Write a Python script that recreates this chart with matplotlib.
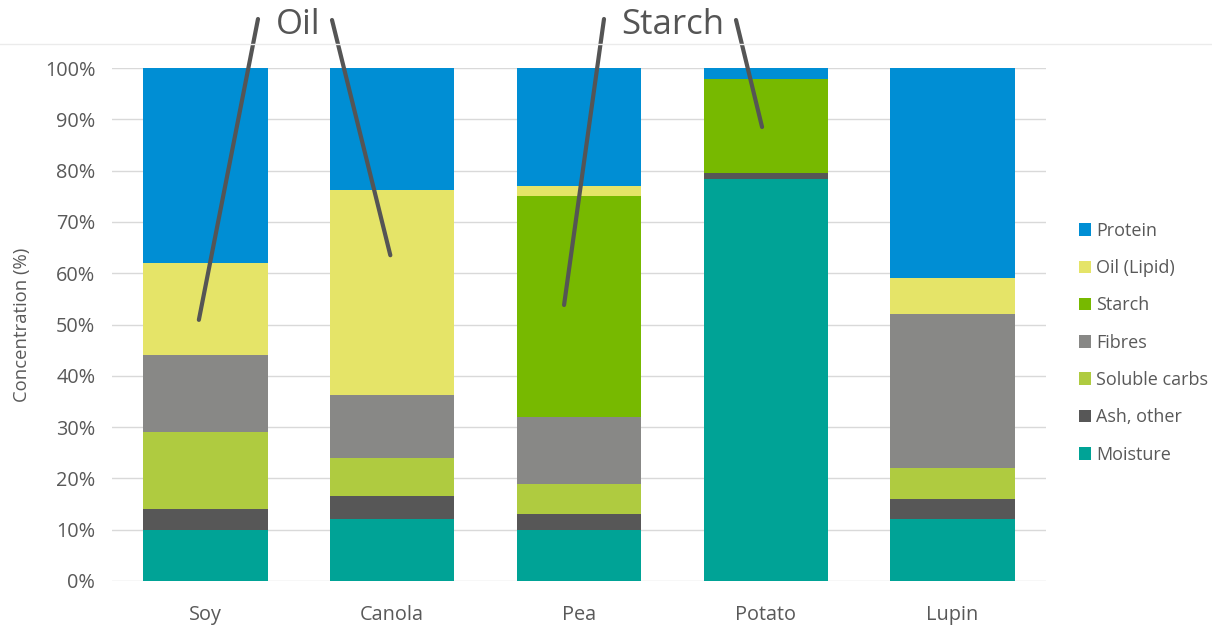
import matplotlib
matplotlib.use("Agg")
import matplotlib.pyplot as plt
from matplotlib.lines import Line2D
from matplotlib.ticker import FuncFormatter
import numpy as np

plt.rcParams['font.family'] = ['Open Sans', 'DejaVu Sans']

crops = ['Soy', 'Canola', 'Pea', 'Potato', 'Lupin']

# stacked from the bottom up
components = ['Moisture', 'Ash, other', 'Soluble carbs', 'Fibres', 'Starch', 'Oil (Lipid)', 'Protein']
moisture = [10, 12, 10, 78.4, 12]
ash = [4, 4.5, 3, 1.1, 4]
soluble_carbs = [15, 7.5, 6, 0, 6]
fibres = [15, 12.3, 13, 0, 30]
starch = [0, 0, 43, 18.4, 0]
oil = [18, 40, 2, 0, 7]
protein = [38, 23.7, 23, 2.1, 41]

colors = ['#00A396', '#575757', '#AFCB40', '#888886', '#77B900', '#E5E468', '#008ED4']

fig = plt.figure(figsize=(12.12, 6.25), dpi=100)
ax = fig.add_axes([112 / 1212, 1 - 581 / 625, (1046 - 112) / 1212, (581 - 68) / 625])

x = np.arange(len(crops))
bottom = np.zeros(len(crops))
handles = []
for name, vals, c in zip(components, [moisture, ash, soluble_carbs, fibres, starch, oil, protein], colors):
    bars = ax.bar(x, vals, width=0.665, bottom=bottom, color=c, linewidth=0, zorder=2, label=name)
    handles.append(bars)
    bottom += np.array(vals)

ax.set_xlim(-0.5, 4.5)
ax.set_ylim(0, 100)
ax.set_yticks(np.arange(0, 101, 10))
ax.yaxis.set_major_formatter(FuncFormatter(lambda v, p: f'{v:.0f}%'))
ax.set_xticks(x)
ax.set_xticklabels(crops)
ax.tick_params(length=0, labelsize=14.3, colors='#595959')
ax.tick_params(axis='x', pad=17)
ax.tick_params(axis='y', pad=12)
ax.grid(axis='y', color='#D9D9D9', lw=1, zorder=0)
for s in ax.spines.values():
    s.set_visible(False)
ax.set_ylabel('Concentration (%)', fontsize=13.3, color='#595959', labelpad=10)

leg = ax.legend(handles[::-1], components[::-1], loc='upper left', bbox_to_anchor=(1.018, 0.732),
                frameon=False, fontsize=13, labelcolor='#595959', handlelength=0.68,
                handleheight=0.68, handletextpad=0.25, labelspacing=1.07)

# faint border line above the plot
fig.add_artist(Line2D([0, 1], [1 - 44 / 625, 1 - 44 / 625], transform=fig.transFigure,
                      color='#EBEBEB', lw=1))

# callout labels with pointer lines into the bars
line_kw = dict(arrowstyle='-', lw=3, color='#555555', shrinkA=0, shrinkB=0)
fig.text(298 / 1212, 1 - 25 / 625, 'Oil', fontsize=25, color='#555555', ha='center', va='center')
fig.text(673 / 1212, 1 - 25 / 625, 'Starch', fontsize=25, color='#555555', ha='center', va='center')
pointers = [((258, 606), (-0.035, 50.9)),
            ((332, 605), (0.99, 63.5)),
            ((604, 606), (1.92, 53.8)),
            ((736, 605), (2.98, 88.5))]
for start, end in pointers:
    ax.annotate('', xy=end, xycoords='data', xytext=start, textcoords='figure pixels',
                arrowprops=line_kw, annotation_clip=False)

fig.savefig('out.png', dpi=100)
